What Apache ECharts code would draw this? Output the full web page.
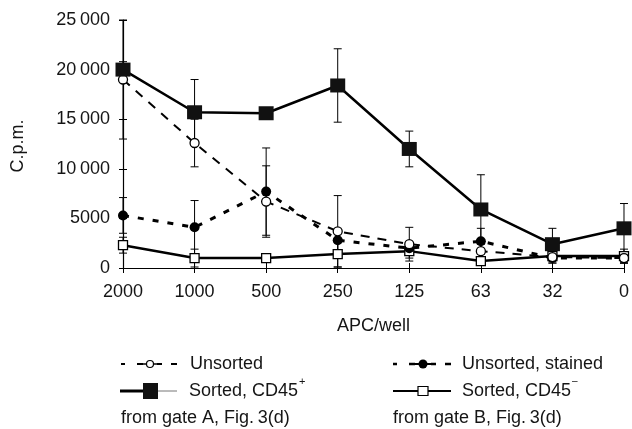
<!DOCTYPE html>
<html>
<head>
<meta charset="utf-8">
<script src="https://cdn.jsdelivr.net/npm/echarts@6/dist/echarts.min.js"></script>
<style>
html,body{margin:0;padding:0;background:#fff;}
#c{width:632px;height:429px;}
</style>
</head>
<body>
<div id="c"></div>
<script>
// ---- data ----
var categories = ['2000','1000','500','250','125','63','32','0'];
var unsorted        = [19000, 12600, 6700, 3700, 2400, 1700, 1100, 1000];
var unsortedErr     = [6000, 2400, 3600, 3600, 1700, 800, 600, 500];
var stained         = [5300, 4100, 7700, 2800, 2000, 2700, 1000, 1000];
var stainedErr      = [1800, 2700, 4400, 1000, 600, 1300, 500, 500];
var sortedPlus      = [20000, 15700, 15600, 18400, 12000, 5900, 2400, 4000];
var sortedPlusErr   = [800, 3300, 500, 3700, 1800, 3500, 1600, 2500];
var sortedMinus     = [2300, 1000, 1000, 1400, 1700, 700, 1200, 1200];
var sortedMinusErr  = [800, 900, 400, 1300, 700, 300, 500, 700];
var yTickLabels = ['0','5000','10\u2009000','15\u2009000','20\u2009000','25\u2009000'];

var FONT = '"Liberation Sans", Arial, Helvetica, sans-serif';
var TXT = '#151515';

function errData(vals, errs){
  return vals.map(function(v,i){ return [i, v, errs[i]]; });
}
function errRender(params, api){
  var x = api.value(0), v = api.value(1), e = api.value(2);
  var hi = api.coord([x, v + e]);
  var lo = api.coord([x, Math.max(0, v - e)]);
  var w = 4;
  var st = {stroke:'#000', lineWidth:1};
  return {type:'group', children:[
    {type:'line', shape:{x1:hi[0], y1:hi[1], x2:lo[0], y2:lo[1]}, style:st},
    {type:'line', shape:{x1:hi[0]-w, y1:hi[1], x2:hi[0]+w, y2:hi[1]}, style:st},
    {type:'line', shape:{x1:lo[0]-w, y1:lo[1], x2:lo[0]+w, y2:lo[1]}, style:st}
  ]};
}
function errSeries(vals, errs){
  return {type:'custom', renderItem:errRender, data:errData(vals, errs),
          encode:{x:0, y:1}, z:1, silent:true, clip:false};
}

var chart = echarts.init(document.getElementById('c'), null, {renderer:'canvas'});

var textStyle = {fontFamily:FONT, fontSize:18, fill:TXT};
function t(x, y, s){ return {type:'text', x:x, y:y, style:Object.assign({text:s, verticalAlign:'middle'}, textStyle)}; }
function ln(x1,y1,x2,y2,w,dash,color){ return {type:'line', shape:{x1:x1,y1:y1,x2:x2,y2:y2}, style:{stroke:color||'#000', lineWidth:w, lineDash:dash||null}}; }

var r1 = 364, r2 = 391, r3 = 418;
var graphics = [
  // row 1 left: Unsorted
  ln(121,r1,125,r1,2), ln(137,r1,143,r1,2), ln(157,r1,162,r1,2), ln(171,r1,177,r1,2),
  ln(143,r1,157,r1,1.5),
  {type:'circle', shape:{cx:150, cy:r1, r:3.5}, style:{fill:'#fff', stroke:'#000', lineWidth:1.2}},
  t(190, r1, 'Unsorted'),
  // row 1 right: Unsorted, stained
  ln(393,r1,397,r1,2.5), ln(409,r1,415,r1,2.5), ln(431,r1,436,r1,2.5), ln(445,r1,451,r1,2.5),
  ln(415,r1,431,r1,2),
  {type:'circle', shape:{cx:423, cy:r1, r:4.5}, style:{fill:'#000'}},
  t(462, r1, 'Unsorted, stained'),
  // row 2 left: Sorted CD45+
  ln(120,r2,145,r2,3),
  ln(158,r2,177,r2,1,null,'#777'),
  {type:'rect', shape:{x:143, y:r2-8, width:15, height:16}, style:{fill:'#111'}},
  t(189, r2, 'Sorted, CD45'),
  {type:'text', x:299, y:r2-9, style:{text:'+', fontFamily:FONT, fontSize:11, fill:TXT, verticalAlign:'middle'}},
  // row 2 right: Sorted CD45-
  ln(393,r2,451,r2,2),
  {type:'rect', shape:{x:418, y:r2-4.5, width:10, height:9}, style:{fill:'#fff', stroke:'#000', lineWidth:1.2}},
  t(462, r2, 'Sorted, CD45'),
  {type:'text', x:572, y:r2-10, style:{text:'\u2013', fontFamily:FONT, fontSize:10, fill:TXT, verticalAlign:'middle'}},
  // row 3
  t(121, r3, 'from gate A, Fig.\u20093(d)'),
  t(393, r3, 'from gate B, Fig.\u20093(d)'),
  // y-axis title
  {type:'text', x:18, y:146, rotation:Math.PI/2, style:Object.assign({text:'C.p.m.', align:'center', verticalAlign:'middle'}, textStyle)}
];

var option = {
  animation:false,
  backgroundColor:'#fff',
  grid:{left:123, right:8, top:20, bottom:161, containLabel:false},
  xAxis:[{
    type:'category', data:categories, boundaryGap:false, position:'bottom',
    axisLine:{lineStyle:{color:'#000', width:1.2}},
    axisTick:{show:true, alignWithLabel:true, length:5, lineStyle:{color:'#000'}},
    axisLabel:{fontFamily:FONT, fontSize:18, color:TXT, margin:15},
    name:'APC/well', nameLocation:'middle', nameGap:49,
    nameTextStyle:{fontFamily:FONT, fontSize:18, color:TXT},
    splitLine:{show:false}
  },{
    type:'category', data:categories, boundaryGap:false, position:'bottom', offset:0,
    axisLine:{show:false},
    axisTick:{show:true, inside:true, length:5, lineStyle:{color:'#000'}},
    axisLabel:{show:false}, splitLine:{show:false}
  }],
  yAxis:[{
    type:'value', min:0, max:25000, interval:5000,
    axisLine:{show:true, lineStyle:{color:'#000', width:1.2}},
    axisTick:{show:true, length:4, lineStyle:{color:'#000'}},
    axisLabel:{fontFamily:FONT, fontSize:18, color:TXT, margin:13,
      formatter:function(v){ return yTickLabels[Math.round(v/5000)]; }},
    splitLine:{show:false}
  },{
    type:'value', min:0, max:25000, interval:5000, position:'left', offset:0,
    axisLine:{show:false},
    axisTick:{show:true, inside:true, length:4, lineStyle:{color:'#000'}},
    axisLabel:{show:false}, splitLine:{show:false}
  }],
  graphic:graphics,
  series:[
    errSeries(sortedMinus, sortedMinusErr),
    errSeries(stained, stainedErr),
    errSeries(unsorted, unsortedErr),
    errSeries(sortedPlus, sortedPlusErr),
    {name:'Sorted, CD45-', type:'line', data:sortedMinus, z:3,
     symbol:'rect', symbolSize:9,
     lineStyle:{color:'#000', width:2.5},
     itemStyle:{color:'#fff', borderColor:'#000', borderWidth:1.3}},
    {name:'Unsorted, stained', type:'line', data:stained, z:4,
     symbol:'circle', symbolSize:10,
     lineStyle:{color:'#000', width:3, type:[6,9]},
     itemStyle:{color:'#000', borderColor:'#000', borderWidth:0}},
    {name:'Unsorted', type:'line', data:unsorted, z:5,
     symbol:'circle', symbolSize:9,
     lineStyle:{color:'#000', width:2, type:[9,8]},
     itemStyle:{color:'#fff', borderColor:'#000', borderWidth:1.3}},
    {name:'Sorted, CD45+', type:'line', data:sortedPlus, z:6,
     symbol:'rect', symbolSize:[15,14],
     lineStyle:{color:'#000', width:2.5},
     itemStyle:{color:'#111', borderColor:'#000', borderWidth:0}}
  ]
};
chart.setOption(option);
</script>
</body>
</html>
